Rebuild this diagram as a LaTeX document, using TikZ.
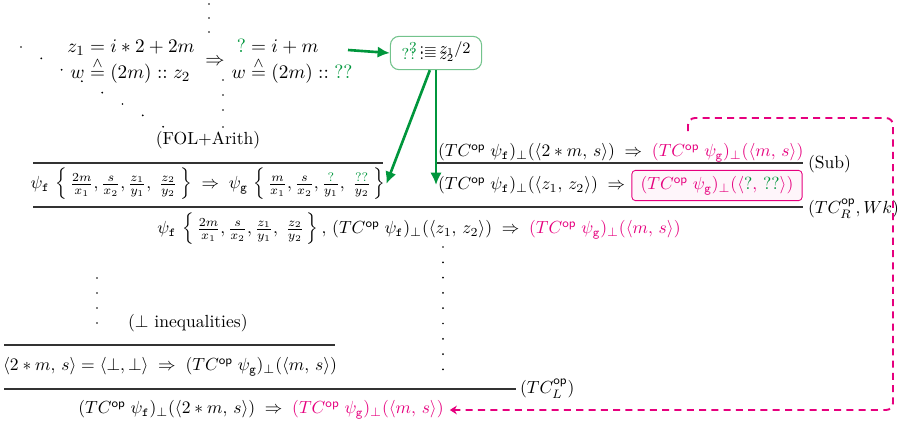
\documentclass[tikz,border=0pt]{standalone}
\usepackage{amsmath, amssymb}
\usepackage{xcolor}
\usepackage{tikz}
\usetikzlibrary{positioning,arrows.meta}

\definecolor{gr}{RGB}{0,150,60}
\definecolor{grl}{RGB}{115,195,140}
\definecolor{pk}{RGB}{230,0,126}

\newcommand{\TCop}{TC^{\mathsf{op}}}
\newcommand{\pf}{\psi_{\mathtt{f}}}
\newcommand{\pg}{\psi_{\mathtt{g}}}
\newcommand{\hq}{\textcolor{gr}{?}}
\newcommand{\hqq}{\textcolor{gr}{??}}
\newcommand{\wedgeeq}{\mathrel{\stackrel{\wedge}{=}}}
\newcommand{\imp}{\;\Rightarrow\;}

\begin{document}
\begin{tikzpicture}[x=0.57pt, y=-0.57pt, >=Stealth,
		rule/.style={draw=black!80, line width=0.7pt},
		lbl/.style={anchor=west, inner sep=1pt},
		eqs/.style={font=\fontsize{11}{13}\selectfont},
		holebox/.style={draw=grl, fill=white, rounded corners=5pt, line width=0.6pt, minimum width=52pt, minimum height=19pt, inner sep=1pt},
		goalbox/.style={draw=pk, fill=pk!4, rounded corners=2pt, line width=0.5pt, minimum width=97pt, minimum height=16.5pt},
		garrow/.style={->, draw=gr, line width=1.5pt, >={Latex[length=7pt,width=6.5pt]}},
		parrow/.style={->, draw=pk, line width=1.1pt, dash pattern=on 4pt off 3pt, rounded corners=4pt, >={Stealth[length=4pt,width=5pt]}}]

			\useasboundingbox (0,0) rectangle (904,424);

			% dots of the derivations
			\foreach \i in {0,...,7}
				\fill (21+20.3*\i, 47+11.4*\i) circle (0.55pt);
			\foreach \y in {4,18,32}
				\fill (209,\y) circle (0.55pt);
			\foreach \y in {80,95,110,127}
				\fill (223,\y) circle (0.55pt);
			\foreach \i in {0,...,8}
				\fill (443,247+15.3*\i) circle (0.55pt);
			\foreach \y in {278,293,308,323}
				\fill (97,\y) circle (0.55pt);

			% arithmetic step
			\node[eqs] (lhs) at (131,61) {$\begin{array}{@{}r@{\;}c@{\;}l@{}} z_1 & = & i*2+2m\\[-1pt] w & \wedgeeq & (2m)::z_2\end{array}$};
			\node[eqs] (imp) at (215,62) {$\Rightarrow$};
			\node[eqs] (rhs) at (292,61) {$\begin{array}{@{}r@{\;}c@{\;}l@{}} \hq & = & i+m\\[-1pt] w & \wedgeeq & (2m)::\hqq\end{array}$};
			\node[holebox] (hole) at (436,53) {\small$\begin{array}{@{}r@{\,}c@{\,}l@{}} \hq & := & z_1/2\\[-7.6pt] \hqq & := & z_2\end{array}$};
			\node (fol) at (208,140) {(FOL+Arith)};

			% tree
			\draw[rule] (33,163) -- (383,163);
			\node (sub1) at (208,184) {$\pf\,\left\{\,\frac{2m}{x_1},\frac{s}{x_2},\frac{z_1}{y_1},\;\frac{z_2}{y_2}\,\right\}\imp\pg\,\left\{\,\frac{m}{x_1},\frac{s}{x_2},\frac{\hq}{y_1},\;\frac{\hqq}{y_2}\,\right\}$};

			\node[lbl] (sprem) at (436,153) {$(\TCop\;\pf)_\perp(\langle 2*m,\,s\rangle)\imp\textcolor{pk}{(\TCop\;\pg)_\perp(\langle m,\,s\rangle)}$};
			\draw[rule] (437,163) -- (803,163);
			\node[lbl] (sub) at (806,164) {(Sub)};
			\node[lbl] (wk) at (436,185) {$(\TCop\;\pf)_\perp(\langle z_1,\,z_2\rangle)\imp$};
			\node[goalbox] (goal) at (717,185.5) {$\textcolor{pk}{(\TCop\;\pg)_\perp(\langle \hq,\,\hqq\rangle)}$};

			\draw[rule] (33,207) -- (803,207);
			\node[lbl] (wklbl) at (806,209) {$(\TCop_R, Wk)$};
			\node (mid) at (419,229) {$\pf\,\left\{\,\frac{2m}{x_1},\frac{s}{x_2},\frac{z_1}{y_1},\;\frac{z_2}{y_2}\,\right\},\,(\TCop\;\pf)_\perp(\langle z_1,\,z_2\rangle)\imp\textcolor{pk}{(\TCop\;\pg)_\perp(\langle m,\,s\rangle)}$};

			\node[lbl] (ineq) at (126,323) {($\perp$ inequalities)};
			\draw[rule] (4,345) -- (335,345);
			\node (bot) at (170,367) {$\langle 2*m,\,s\rangle=\langle\perp,\perp\rangle\imp(\TCop\;\pg)_\perp(\langle m,\,s\rangle)$};
			\draw[rule] (4,389) -- (516,389);
			\node[lbl] (llbl) at (518,389) {$(\TCop_L)$};
			\node (concl) at (261,410) {$(\TCop\;\pf)_\perp(\langle 2*m,\,s\rangle)\imp\textcolor{pk}{(\TCop\;\pg)_\perp(\langle m,\,s\rangle)}$};

			% hole arrows
			\coordinate (a0) at (348,50);
			\draw[garrow] (a0) -- (hole.west);
			\draw[garrow] ([xshift=-3.5pt]hole.south) -- ([xshift=-3pt]sub1.east);
			\draw[garrow] (hole.south) -- (hole.south |- wk.west);

			% back to the goal
			\coordinate (d0) at (688,131);
			\coordinate (d1) at (893,118);
			\draw[parrow] (d0) |- (d1) -- (d1 |- concl.east) -- (concl.east);
		\end{tikzpicture}
\end{document}
